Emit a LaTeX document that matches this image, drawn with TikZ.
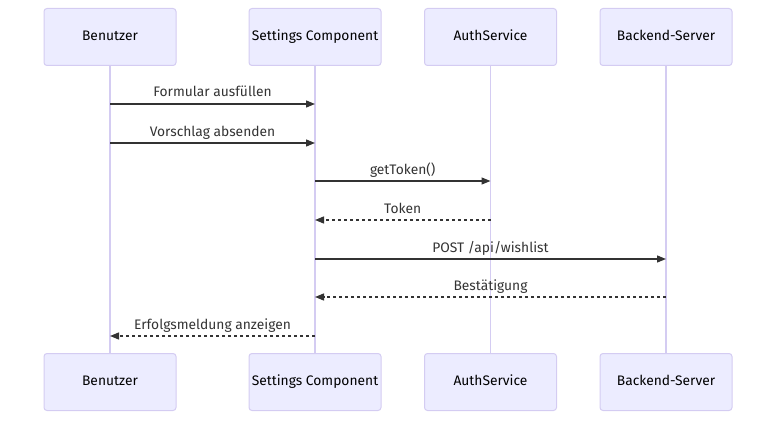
\documentclass[tikz,border=0pt]{standalone}
\usepackage{fontspec}
\setmainfont{Fira Sans}
\usetikzlibrary{arrows.meta}
\definecolor{actfill}{HTML}{ECECFF}
\definecolor{actline}{HTML}{D4CCF2}
\definecolor{msgcol}{HTML}{333333}
\tikzset{
  actor/.style={draw=actline, fill=actfill, line width=1pt, rounded corners=3pt, minimum width=132pt, minimum height=57pt, inner sep=0pt, text height=10pt, text depth=3pt, font=\fontsize{13.8}{16}\selectfont, text=black},
  life/.style={draw=actline, line width=1.2pt},
  msg/.style={draw=msgcol, line width=1.3pt, -{Triangle[length=9pt,width=7pt]}},
  reply/.style={msg, dash pattern=on 3pt off 3pt},
  lbl/.style={font=\fontsize{13.8}{16}\selectfont, text=msgcol, inner sep=0pt, anchor=base}
}
\begin{document}
\begin{tikzpicture}[x=1pt,y=-1pt]
\useasboundingbox (0,0) rectangle (784,425);
% top actors
\node[actor] (bT) at (110,37) {Benutzer};
\node[actor] (sT) at (315,37) {Settings Component};
\node[actor] (aT) at (490.5,37) {AuthService};
\node[actor] (kT) at (666,37) {Backend-Server};
% bottom actors
\node[actor] (bB) at (110,382) {Benutzer};
\node[actor] (sB) at (315,382) {Settings Component};
\node[actor] (aB) at (490.5,382) {AuthService};
\node[actor] (kB) at (666,382) {Backend-Server};
% lifelines
\draw[life] (bT.south) -- (bB.north);
\draw[life] (sT.south) -- (sB.north);
\draw[life] (aT.south) -- (aB.north);
\draw[life] (kT.south) -- (kB.north);
% message points
\coordinate (b1) at (110,104); \coordinate (s1) at (315,104);
\coordinate (b2) at (110,143); \coordinate (s2) at (315,143);
\coordinate (s3) at (315,181); \coordinate (a3) at (490.5,181);
\coordinate (a4) at (490.5,220); \coordinate (s4) at (315,220);
\coordinate (s5) at (315,259); \coordinate (k5) at (666,259);
\coordinate (k6) at (666,297); \coordinate (s6) at (315,297);
\coordinate (s7) at (315,336); \coordinate (b7) at (110,336);
\draw[msg] (b1) -- (s1);
\draw[msg] (b2) -- (s2);
\draw[msg] (s3) -- (a3);
\draw[reply] (a4) -- (s4);
\draw[msg] (s5) -- (k5);
\draw[reply] (k6) -- (s6);
\draw[reply] (s7) -- (b7);
\node[lbl] (l1) at (212.5,97) {Formular ausfüllen};
\node[lbl] (l2) at (212.5,136) {Vorschlag absenden};
\node[lbl] (l3) at (402.7,174) {getToken()};
\node[lbl] (l4) at (402.7,213) {Token};
\node[lbl] (l5) at (490.5,252) {POST /api/wishlist};
\node[lbl] (l6) at (490.5,290) {Bestätigung};
\node[lbl] (l7) at (212.5,329) {Erfolgsmeldung anzeigen};
\end{tikzpicture}
\end{document}
